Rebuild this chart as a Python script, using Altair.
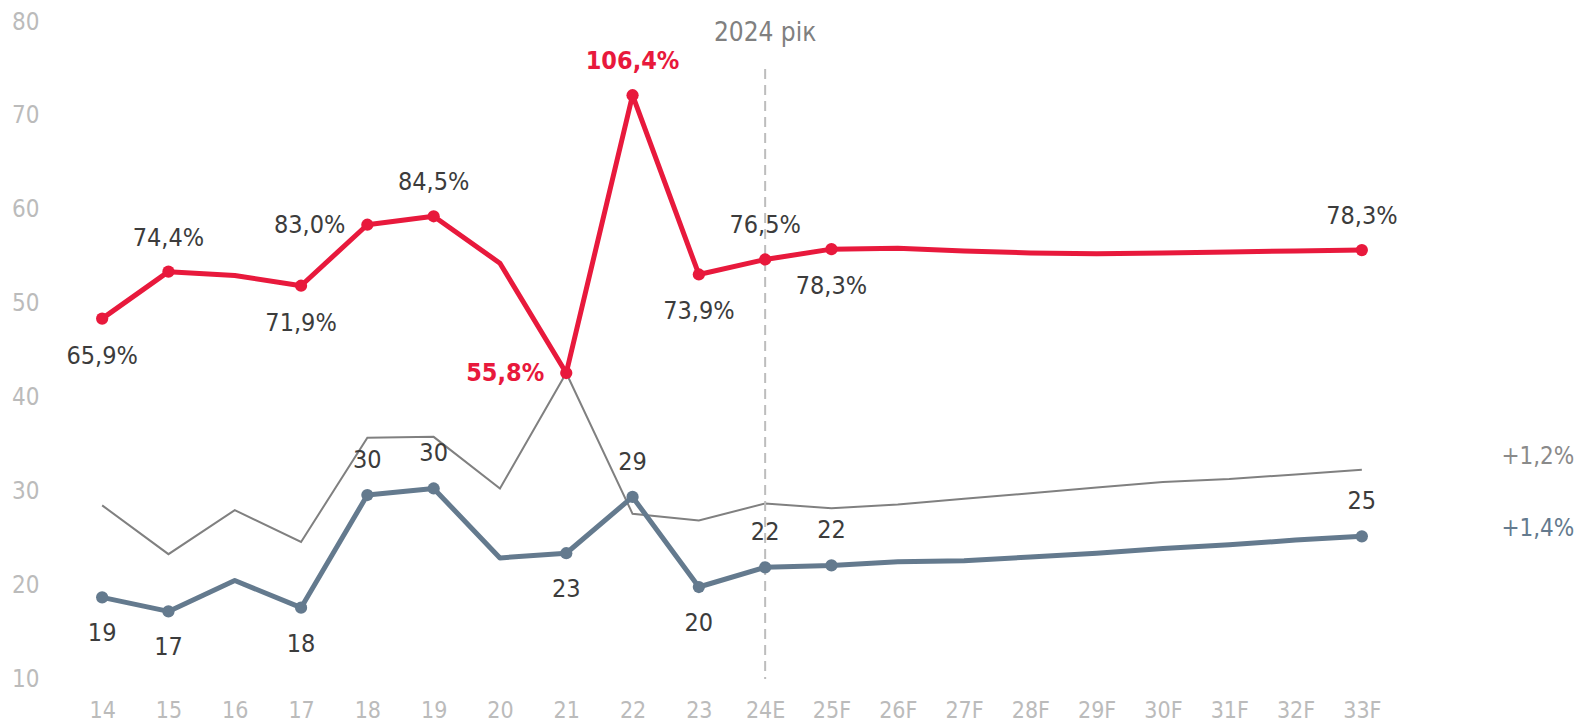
import altair as alt
import pandas as pd

# ---------------- data ----------------
cats = ["14", "15", "16", "17", "18", "19", "20", "21", "22", "23",
        "24E", "25F", "26F", "27F", "28F", "29F", "30F", "31F", "32F", "33F"]

red_vals = [48.4, 53.4, 53.0, 51.9, 58.4, 59.3, 54.3, 42.6, 72.2, 53.1,
            54.7, 55.8, 55.9, 55.6, 55.4, 55.3, 55.4, 55.5, 55.6, 55.7]
gray_vals = [28.5, 23.3, 28.0, 24.6, 35.7, 35.8, 30.3, 42.6, 27.6, 26.9,
             28.7, 28.2, 28.6, 29.2, 29.8, 30.4, 31.0, 31.3, 31.8, 32.3]
blue_vals = [18.7, 17.2, 20.5, 17.6, 29.6, 30.3, 22.9, 23.4, 29.4, 19.8,
             21.9, 22.1, 22.5, 22.6, 23.0, 23.4, 23.9, 24.3, 24.8, 25.2]

red_labels = ["65,9%", "74,4%", "", "71,9%", "83,0%", "84,5%", "", "55,8%", "106,4%", "73,9%",
              "76,5%", "78,3%", "", "", "", "", "", "", "", "78,3%"]
red_pos = ["below", "above", "", "below", "left", "above", "", "left_hl", "above_hl", "below",
           "above", "below", "", "", "", "", "", "", "", "above"]

blue_labels = ["19", "17", "", "18", "30", "30", "", "23", "29", "20",
               "22", "22", "", "", "", "", "", "", "", "25"]
blue_pos = ["below", "below", "", "below", "above", "above", "", "below", "above", "below",
            "above", "above", "", "", "", "", "", "", "", "above"]

ann_text = ["+1,2%", "+1,4%"]
ann_value = [33.6, 26.0]
ann_color = ["#8A8A8A", "#647A8E"]

year_cat = "24E"
year_text = "2024 рік"
year_rule_top = 75
year_rule_bottom = 10
year_text_value = 78.8

y_ticks = [10, 20, 30, 40, 50, 60, 70, 80]

# ---------------- styling ----------------
RED = "#E8193C"
BLUE = "#647A8E"
GRAY = "#808080"
TXT = "#3C3C3C"
AX = "#BBBBBB"
FONT = "DejaVu Sans Condensed, DejaVu Sans, sans-serif"

lines_df = pd.DataFrame({"cat": cats, "red": red_vals, "gray": gray_vals, "blue": blue_vals})

pts_rows = []
for c, v, l, p in zip(cats, red_vals, red_labels, red_pos):
    if l:
        pts_rows.append({"cat": c, "value": v, "label": l, "pos": p, "series": "red"})
for c, v, l, p in zip(cats, blue_vals, blue_labels, blue_pos):
    if l:
        pts_rows.append({"cat": c, "value": v, "label": l, "pos": p, "series": "blue"})
pts_df = pd.DataFrame(pts_rows)

ann_df = pd.DataFrame({"cat": ["33F"] * len(ann_text), "value": ann_value,
                       "text": ann_text, "color": ann_color})
year_df = pd.DataFrame({"cat": [year_cat], "top": [year_rule_top],
                        "bottom": [year_rule_bottom], "tv": [year_text_value],
                        "text": [year_text]})

xscale = alt.Scale(type="point", domain=cats, padding=0.5)
yscale = alt.Scale(domain=[10, 80], nice=False, zero=False)

X = alt.X("cat:N", scale=xscale, sort=cats,
          axis=alt.Axis(title=None, domain=False, ticks=False, labelAngle=0,
                        labelColor=AX, labelFont=FONT, labelFontSize=23,
                        labelPadding=20, grid=False))


def Y(field):
    return alt.Y(field, scale=yscale,
                 axis=alt.Axis(title=None, domain=False, ticks=False, grid=False,
                               values=y_ticks, labelColor=AX, labelFont=FONT,
                               labelFontSize=24, labelPadding=30))


base = alt.Chart(lines_df)

gray_line = base.mark_line(color=GRAY, strokeWidth=2).encode(x=X, y=Y("gray:Q"))
red_line = base.mark_line(color=RED, strokeWidth=5, strokeJoin="round",
                          strokeCap="round").encode(x=X, y=Y("red:Q"))
blue_line = base.mark_line(color=BLUE, strokeWidth=5, strokeJoin="round",
                           strokeCap="round").encode(x=X, y=Y("blue:Q"))

pts = alt.Chart(pts_df)
red_pts = pts.transform_filter(alt.datum.series == "red").mark_point(
    filled=True, size=150, opacity=1, color=RED).encode(x=X, y=Y("value:Q"))
blue_pts = pts.transform_filter(alt.datum.series == "blue").mark_point(
    filled=True, size=150, opacity=1, color=BLUE).encode(x=X, y=Y("value:Q"))


def labels(series, pos, dx, dy, align="center", color=TXT, bold=False):
    return pts.transform_filter(
        (alt.datum.series == series) & (alt.datum.pos == pos)
    ).mark_text(font=FONT, fontSize=25, color=color, align=align, baseline="middle",
                dx=dx, dy=dy, fontWeight="bold" if bold else "normal").encode(
        x=X, y=Y("value:Q"), text="label:N")


red_above = labels("red", "above", 0, -34)
red_below = labels("red", "below", 0, 37)
red_left = labels("red", "left", -22, 0, align="right")
red_left_hl = labels("red", "left_hl", -22, 0, align="right", color=RED, bold=True)
red_above_hl = labels("red", "above_hl", 0, -34, color=RED, bold=True)
blue_above = labels("blue", "above", 0, -35)
blue_below = labels("blue", "below", 0, 36)

ann = alt.Chart(ann_df).mark_text(font=FONT, fontSize=24, align="center",
                                  baseline="middle", dx=176).encode(
    x=X, y=Y("value:Q"), text="text:N", color=alt.Color("color:N", scale=None))

yr = alt.Chart(year_df)
year_rule = yr.mark_rule(color="#BDBDBD", strokeWidth=2, strokeDash=[10, 6]).encode(
    x=X, y=Y("top:Q"), y2="bottom:Q")
year_label = yr.mark_text(font=FONT, fontSize=26, color=GRAY, align="center",
                          baseline="middle").encode(x=X, y=Y("tv:Q"), text="text:N")

chart = alt.layer(
    gray_line, year_rule, red_line, blue_line, red_pts, blue_pts,
    red_above, red_below, red_left, red_left_hl, red_above_hl,
    blue_above, blue_below, ann, year_label
).properties(
    width=1326, height=657,
    autosize=alt.AutoSizeParams(type="none"),
    padding={"left": 61, "top": 14, "right": 182, "bottom": 50},
    background="white",
).configure_view(strokeWidth=0, stroke="transparent")

chart.save("out.html", embed_options={"renderer": "svg", "actions": False})
